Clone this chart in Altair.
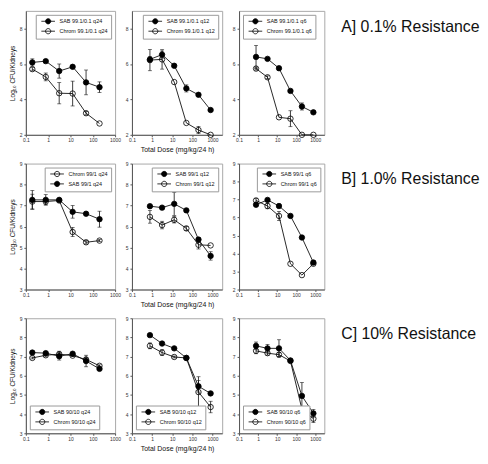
import altair as alt
import pandas as pd

FONT = "Liberation Sans"

# ---------------- data ----------------
dose_q24 = [0.195, 0.78, 3.125, 12.5, 50, 200]
dose_q12 = [0.78, 3.125, 12.5, 50, 200, 800]
dose_q6 = [0.78, 3.125, 12.5, 50, 200, 800]

# Row A: 0.1% resistance
a1_sab = [6.09, 6.16, 5.60, 5.84, 4.96, 4.69]
a1_sab_err = [0.20, 0.0, 0.40, 0.0, 0.70, 0.30]
a1_chrom = [5.71, 5.27, 4.35, 4.33, 3.22, 2.64]
a1_chrom_err = [0.10, 0.22, 0.60, 0.70, 0.10, 0.0]

a2_sab = [6.26, 6.53, 5.90, 4.62, 4.26, 3.40]
a2_sab_err = [0.15, 0.20, 0.0, 0.20, 0.0, 0.0]
a2_chrom = [6.22, 6.26, 4.98, 2.67, 2.27, 2.00]
a2_chrom_err = [0.60, 0.55, 0.0, 0.0, 0.20, 0.0]

a3_sab = [6.40, 6.29, 5.76, 4.48, 3.60, 3.27]
a3_sab_err = [0.65, 0.0, 0.10, 0.0, 0.20, 0.0]
a3_chrom = [5.74, 5.25, 2.99, 2.91, 2.00, 2.00]
a3_chrom_err = [0.08, 0.08, 0.0, 0.45, 0.0, 0.0]

# Row B: 1.0% resistance
b1_sab = [7.27, 7.27, 7.27, 6.70, 6.61, 6.35]
b1_sab_err = [0.45, 0.25, 0.0, 0.30, 0.0, 0.38]
b1_chrom = [7.19, 7.19, 7.24, 5.74, 5.25, 5.33]
b1_chrom_err = [0.35, 0.15, 0.0, 0.22, 0.08, 0.05]

b2_sab = [6.97, 6.90, 7.08, 6.77, 5.38, 4.60]
b2_sab_err = [0.0, 0.0, 0.55, 0.0, 0.10, 0.20]
b2_chrom = [6.46, 6.07, 6.32, 5.91, 5.13, 5.10]
b2_chrom_err = [0.30, 0.18, 0.15, 0.10, 0.20, 0.0]

b3_sab = [6.71, 6.98, 6.64, 6.09, 4.89, 3.50]
b3_sab_err = [0.10, 0.0, 0.10, 0.0, 0.0, 0.08]
b3_chrom = [6.95, 6.64, 6.09, 3.43, 2.80, 3.43]
b3_chrom_err = [0.10, 0.15, 0.25, 0.0, 0.0, 0.05]

# Row C: 10% resistance
c1_sab = [7.21, 7.18, 7.02, 7.15, 6.77, 6.36]
c1_sab_err = [0.0, 0.0, 0.20, 0.0, 0.30, 0.0]
c1_chrom = [6.93, 7.07, 7.13, 7.05, 6.85, 6.52]
c1_chrom_err = [0.05, 0.08, 0.15, 0.05, 0.10, 0.05]

c2_sab = [8.12, 7.68, 7.43, 6.93, 5.45, 5.08]
c2_sab_err = [0.0, 0.0, 0.0, 0.10, 0.30, 0.0]
c2_chrom = [7.56, 7.21, 6.98, 6.93, 5.15, 4.37]
c2_chrom_err = [0.15, 0.15, 0.05, 0.05, 0.80, 0.30]

c3_sab = [7.56, 7.43, 7.43, 6.80, 4.95, 4.04]
c3_sab_err = [0.20, 0.20, 0.45, 0.0, 0.70, 0.20]
c3_chrom = [7.30, 7.18, 7.10, 6.77, 4.26, 3.76]
c3_chrom_err = [0.15, 0.10, 0.10, 0.05, 0.05, 0.20]

x_ticks = [0.1, 1, 10, 100, 1000]
y_ticks_a = [2, 4, 6, 8]
y_ticks_b = [3, 4, 5, 6, 7, 8, 9]
y_ticks_b3 = [2, 3, 4, 5, 6, 7, 8, 9]
y_ticks_c = [3, 4, 5, 6, 7, 8, 9]

row_labels = ["A] 0.1% Resistance", "B] 1.0% Resistance", "C] 10% Resistance"]
y_title = "Log\u2081\u2080 CFU/Kidneys"
x_title = "Total Dose (mg/kg/24 h)"

# ---------------- styling ----------------
SYMBOL = "M-2.6,0L2.6,0M1,0A1,1,0,1,1,-1,0A1,1,0,1,1,1,0Z"
INK = "#111111"
W1, W2, W3, WT = 90, 91, 86, 120
HA, HB, HC = 125, 127, 116


def make_legend(orient):
    return alt.Legend(
        title=None, orient=orient, offset=4,
        fillColor="white", strokeColor="#9a9a9a",
        padding=3, labelFontSize=5.5, labelFont=FONT, labelColor=INK,
        symbolType=SYMBOL, symbolSize=28, symbolStrokeColor="black",
        symbolStrokeWidth=0.8, rowPadding=1, symbolOffset=6, labelOffset=8,
        labelLimit=200,
    )


def panel(doses, sab, sab_err, chrom, chrom_err, sab_lbl, chrom_lbl, sab_first,
          ydom, yvals, xmax, lorient, show_ytitle, show_xtitle, w, h):
    rows = []
    for lbl, vals, errs in [(sab_lbl, sab, sab_err), (chrom_lbl, chrom, chrom_err)]:
        for d, v, e in zip(doses, vals, errs):
            rows.append({"dose": d, "val": v, "err": e, "lo": v - e, "hi": v + e, "series": lbl})
    df = pd.DataFrame(rows)
    if sab_first:
        dom, rng = [sab_lbl, chrom_lbl], ["black", "transparent"]
    else:
        dom, rng = [chrom_lbl, sab_lbl], ["transparent", "black"]

    xscale = alt.Scale(type="log", domain=[0.1, xmax], nice=False)
    yscale = alt.Scale(domain=ydom, nice=False, zero=False)
    xaxis = alt.Axis(
        values=x_ticks, format="~g", grid=False, labelFontSize=5, labelFont=FONT,
        labelColor="#333", tickSize=2, tickColor="#555", domainColor="#555",
        labelPadding=1, labelFlush=False, labelOverlap=False,
        title=x_title if show_xtitle else None, titleFontSize=7, titleFont=FONT,
        titleFontWeight="normal", titleColor=INK, titlePadding=3,
    )
    yaxis = alt.Axis(
        values=yvals, format="d", grid=False, labelFontSize=5, labelFont=FONT,
        labelColor="#333", tickSize=2, tickColor="#555", domainColor="#555",
        labelPadding=2, labelOverlap=False,
        title=y_title if show_ytitle else None, titleFontSize=6.5, titleFont=FONT,
        titleFontWeight="normal", titleColor=INK, titlePadding=4,
    )
    x = alt.X("dose:Q", scale=xscale, axis=xaxis)
    base = alt.Chart(df)
    line = base.mark_line(color=INK, strokeWidth=0.9).encode(
        x=x, y=alt.Y("val:Q", scale=yscale, axis=yaxis), detail="series:N")
    eb = base.transform_filter("datum.err > 0")
    rule = eb.mark_rule(color=INK, strokeWidth=0.8).encode(
        x=x, y=alt.Y("lo:Q", scale=yscale, axis=yaxis), y2="hi:Q")
    cap_lo = eb.mark_tick(orient="horizontal", size=4, thickness=0.8, color=INK).encode(
        x=x, y=alt.Y("lo:Q", scale=yscale, axis=yaxis))
    cap_hi = eb.mark_tick(orient="horizontal", size=4, thickness=0.8, color=INK).encode(
        x=x, y=alt.Y("hi:Q", scale=yscale, axis=yaxis))
    pts = base.mark_point(filled=True, size=30, stroke="black", strokeWidth=0.8, opacity=1).encode(
        x=x, y=alt.Y("val:Q", scale=yscale, axis=yaxis),
        fill=alt.Fill("series:N", scale=alt.Scale(domain=dom, range=rng), legend=make_legend(lorient)),
    )
    return alt.layer(line, rule, cap_lo, cap_hi, pts).properties(width=w, height=h)


def label_chart(txt, h):
    return alt.Chart(pd.DataFrame({"t": [txt]})).mark_text(
        align="left", baseline="middle", fontSize=16, font=FONT, color=INK
    ).encode(text="t:N", x=alt.value(0), y=alt.value(16)).properties(
        width=WT, height=h, view=alt.ViewBackground(stroke=None))


A1 = panel(dose_q24, a1_sab, a1_sab_err, a1_chrom, a1_chrom_err,
           "SAB 99.1/0.1 q24", "Chrom 99.1/0.1 q24", True, [2, 9], y_ticks_a, 1000,
           "top-right", True, False, W1, HA)
A2 = panel(dose_q12, a2_sab, a2_sab_err, a2_chrom, a2_chrom_err,
           "SAB 99.1/0.1 q12", "Chrom 99.1/0.1 q12", True, [2, 9], y_ticks_a, 3000,
           "top-right", False, True, W2, HA)
A3 = panel(dose_q6, a3_sab, a3_sab_err, a3_chrom, a3_chrom_err,
           "SAB 99.1/0.1 q6", "Chrom 99.1/0.1 q6", True, [2, 9], y_ticks_a, 3000,
           "top-left", False, False, W3, HA)

B1 = panel(dose_q24, b1_sab, b1_sab_err, b1_chrom, b1_chrom_err,
           "SAB 99/1 q24", "Chrom 99/1 q24", False, [3, 9], y_ticks_b, 1000,
           "top-right", True, False, W1, HB)
B2 = panel(dose_q12, b2_sab, b2_sab_err, b2_chrom, b2_chrom_err,
           "SAB 99/1 q12", "Chrom 99/1 q12", True, [3, 9], y_ticks_b, 3000,
           "top-right", False, True, W2, HB)
B3 = panel(dose_q6, b3_sab, b3_sab_err, b3_chrom, b3_chrom_err,
           "SAB 99/1 q6", "Chrom 99/1 q6", True, [2, 9], y_ticks_b3, 3000,
           "top-right", False, False, W3, HB)

C1 = panel(dose_q24, c1_sab, c1_sab_err, c1_chrom, c1_chrom_err,
           "SAB 90/10 q24", "Chrom 90/10 q24", True, [3, 9], y_ticks_c, 1000,
           "bottom-left", True, False, W1, HC)
C2 = panel(dose_q12, c2_sab, c2_sab_err, c2_chrom, c2_chrom_err,
           "SAB 90/10 q12", "Chrom 90/10 q12", True, [3, 9], y_ticks_c, 3000,
           "bottom-left", False, True, W2, HC)
C3 = panel(dose_q6, c3_sab, c3_sab_err, c3_chrom, c3_chrom_err,
           "SAB 90/10 q6", "Chrom 90/10 q6", True, [3, 9], y_ticks_c, 3000,
           "bottom-left", False, False, W3, HC)

chart = alt.concat(
    A1, A2, A3, label_chart(row_labels[0], HA),
    B1, B2, B3, label_chart(row_labels[1], HB),
    C1, C2, C3, label_chart(row_labels[2], HC),
    columns=4, spacing={"row": 29, "column": 17}, bounds="flush", align="each",
).resolve_scale(
    x="independent", y="independent", fill="independent"
).resolve_axis(
    x="independent", y="independent"
).resolve_legend(
    fill="independent"
).properties(
    padding=0, background="white"
).configure_view(
    stroke="#a8a8a8", strokeWidth=1
)

chart.save("out.html", embed_options={"renderer": "svg", "actions": False})
